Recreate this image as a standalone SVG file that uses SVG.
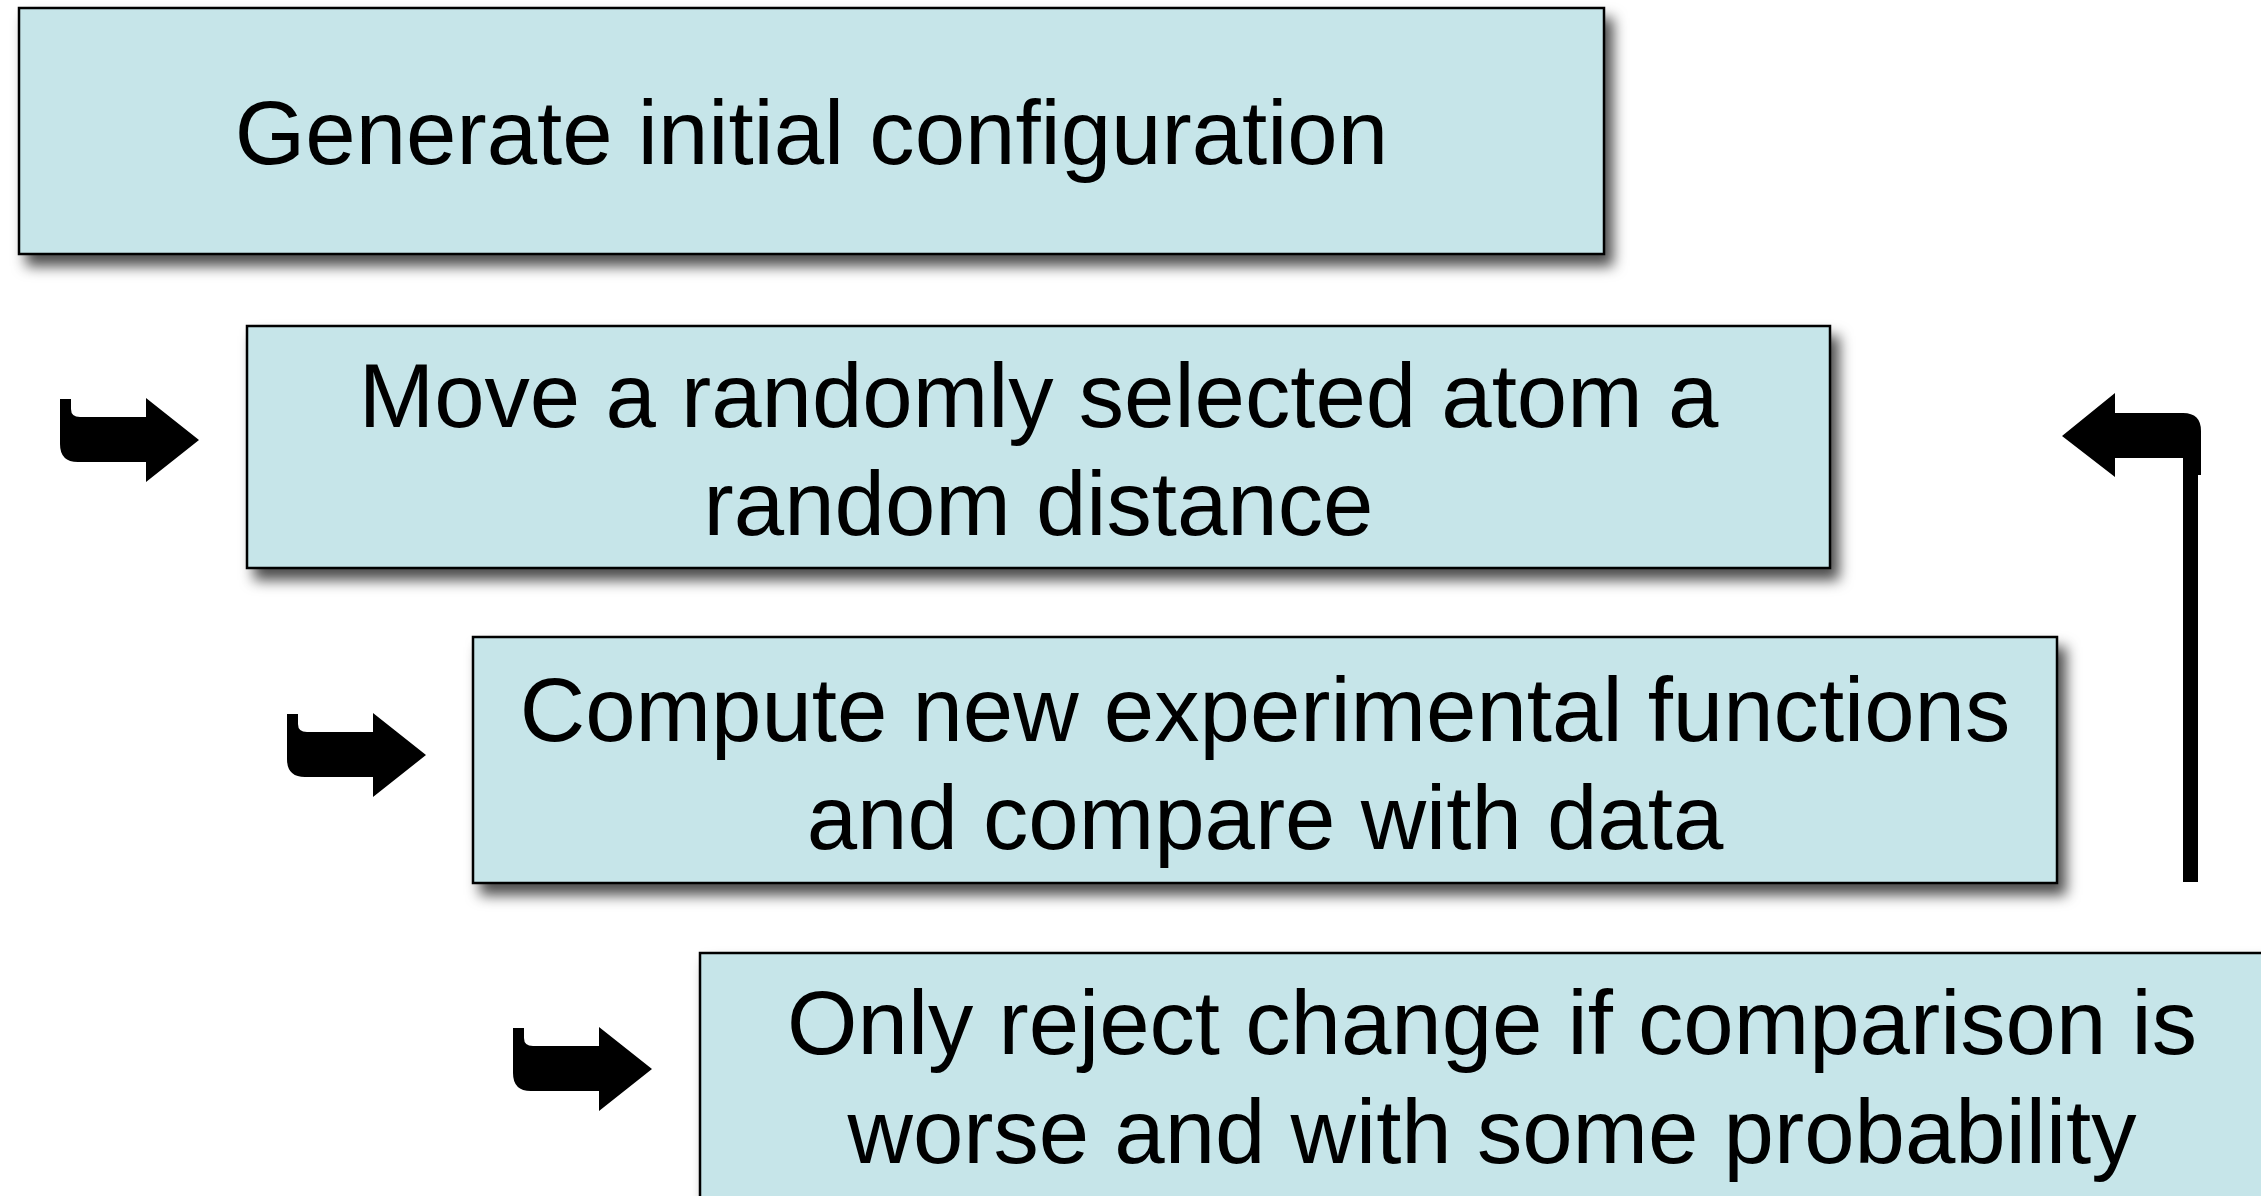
<svg xmlns="http://www.w3.org/2000/svg" width="2261" height="1196" viewBox="0 0 2261 1196">
  <defs>
    <filter id="shadow" x="-5%" y="-10%" width="115%" height="130%">
      <feDropShadow dx="8" dy="11" stdDeviation="7" flood-color="#000" flood-opacity="0.7"/>
    </filter>
    <path id="hook" d="M60,399 L71,399 L71,409 Q71,417 80,417 L146,417 L146,398 L199,440 L146,482 L146,462 L78,462 Q60,462 60,444 Z"/>
  </defs>
  <style>
    .box { fill: #c6e5e9; stroke: #000; stroke-width: 2.5; filter: url(#shadow); }
    .lbl { font-family: "Liberation Sans", Arial, sans-serif; font-size: 90.6px; fill: #000; text-anchor: middle; }
    .arr { fill: #000; }
  </style>
  <rect width="2261" height="1196" fill="#fff"/>

  <g id="node-generate">
    <rect class="box" x="19" y="8" width="1585" height="246"/>
    <text class="lbl" x="811.5" y="164">Generate initial configuration</text>
  </g>
  <g id="node-move">
    <rect class="box" x="247" y="326" width="1583" height="242"/>
    <text class="lbl" x="1038.5" y="427">Move a randomly selected atom a</text>
    <text class="lbl" x="1038.5" y="535">random distance</text>
  </g>
  <g id="node-compute">
    <rect class="box" x="473" y="637" width="1584" height="246"/>
    <text class="lbl" x="1265" y="741">Compute new experimental functions</text>
    <text class="lbl" x="1265" y="849">and compare with data</text>
  </g>
  <g id="node-reject">
    <rect class="box" x="700" y="953" width="1584" height="260"/>
    <text class="lbl" x="1492" y="1054">Only reject change if comparison is</text>
    <text class="lbl" x="1492" y="1163">worse and with some probability</text>
  </g>

  <g id="connectors">
    <use href="#hook" class="arr"/>
    <use href="#hook" class="arr" transform="translate(227,315)"/>
    <use href="#hook" class="arr" transform="translate(453,629)"/>
    <path class="arr" d="M2062,436 L2115,393 L2115,413 L2183,413 Q2201,413 2201,431 L2201,475 L2198,475 L2198,882 L2183,882 L2183,458 L2115,458 L2115,477 Z"/>
  </g>
</svg>
